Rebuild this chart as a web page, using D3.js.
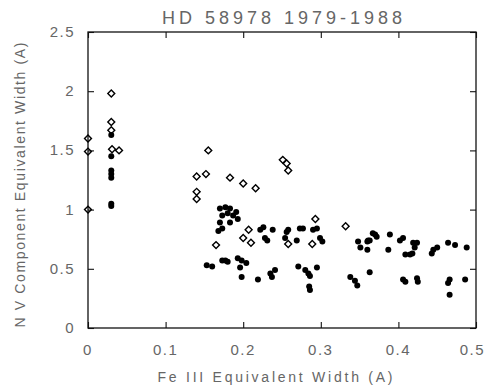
<!DOCTYPE html>
<html><head><meta charset="utf-8">
<script src="https://cdn.jsdelivr.net/npm/d3@7"></script>
<style>html,body{margin:0;padding:0;background:#fff;}svg{display:block;}</style>
</head><body>
<script>
const title = "HD 58978 1979-1988";
const xLabel = "Fe III Equivalent Width (A)";
const yLabel = "N V Component Equivalent Width (A)";
const xTicks = [0, 0.1, 0.2, 0.3, 0.4, 0.5];
const xTickLabels = ["0", "0.1", "0.2", "0.3", "0.4", "0.5"];
const yTicks = [0, 0.5, 1, 1.5, 2, 2.5];
const yTickLabels = ["0", "0.5", "1", "1.5", "2", "2.5"];

// open diamond markers [Fe III EW, V component EW]
const openX = [0, 0, 0, 0.03, 0.03, 0.03, 0.031, 0.040, 0.140, 0.152, 0.140, 0.140, 0.155, 0.183, 0.200, 0.216, 0.251, 0.256, 0.258, 0.165, 0.207, 0.200, 0.210, 0.258, 0.293, 0.289, 0.332];
const openY = [1.60, 1.49, 1.00, 1.98, 1.74, 1.67, 1.51, 1.50, 1.28, 1.30, 1.15, 1.09, 1.50, 1.27, 1.22, 1.18, 1.42, 1.39, 1.33, 0.70, 0.83, 0.76, 0.72, 0.71, 0.92, 0.71, 0.86];

// filled markers
const fillX = [0.03, 0.03, 0.03, 0.03, 0.03, 0.03, 0.03,
  0.170, 0.177, 0.183, 0.191, 0.180, 0.173, 0.187, 0.193, 0.170, 0.173, 0.168, 0.183,
  0.222, 0.226, 0.238, 0.228, 0.231, 0.256, 0.254, 0.269, 0.258, 0.273, 0.277, 0.290, 0.295, 0.299, 0.302,
  0.348, 0.351, 0.360, 0.361, 0.367, 0.372, 0.370, 0.363, 0.360, 0.389, 0.387, 0.406, 0.402, 0.419, 0.424, 0.418, 0.415, 0.409, 0.421, 0.445, 0.450, 0.443, 0.464, 0.473, 0.488,
  0.153, 0.160, 0.173, 0.177, 0.180, 0.198, 0.193, 0.204, 0.196, 0.198, 0.219, 0.235, 0.237, 0.241,
  0.271, 0.284, 0.280, 0.286, 0.295, 0.286, 0.285,
  0.338, 0.344, 0.347, 0.363, 0.406, 0.409, 0.424, 0.425, 0.464, 0.466, 0.486, 0.466];
const fillY = [1.63, 1.45, 1.33, 1.30, 1.27, 1.05, 1.03,
  1.01, 1.02, 1.01, 0.98, 0.97, 0.95, 0.95, 0.92, 0.89, 0.84, 0.82, 0.89,
  0.83, 0.85, 0.83, 0.76, 0.74, 0.81, 0.76, 0.74, 0.83, 0.84, 0.84, 0.83, 0.84, 0.76, 0.73,
  0.73, 0.68, 0.66, 0.74, 0.80, 0.77, 0.79, 0.74, 0.73, 0.79, 0.66, 0.76, 0.74, 0.72, 0.72, 0.63, 0.62, 0.62, 0.68, 0.66, 0.68, 0.63, 0.72, 0.70, 0.68,
  0.53, 0.52, 0.57, 0.57, 0.56, 0.57, 0.59, 0.55, 0.51, 0.43, 0.41, 0.46, 0.43, 0.49,
  0.52, 0.46, 0.49, 0.44, 0.51, 0.32, 0.35,
  0.43, 0.40, 0.36, 0.47, 0.41, 0.39, 0.42, 0.39, 0.38, 0.41, 0.41, 0.28];

const W = 486, H = 386;
const svg = d3.select("body").append("svg").attr("width", W).attr("height", H);
const x = d3.scaleLinear().domain([0, 0.5]).range([88, 476]);
const y = d3.scaleLinear().domain([0, 2.5]).range([328, 32]);
const textColor = "#666";
const font = "Liberation Sans, Arial, sans-serif";

// frame
svg.append("rect").attr("x", x(0)).attr("y", y(2.5))
  .attr("width", x(0.5) - x(0)).attr("height", y(0) - y(2.5))
  .attr("fill", "none").attr("stroke", "#111").attr("stroke-width", 1.3);

// inward ticks on all sides
const tl = 6;
const gb = svg.append("g").attr("transform", `translate(0,${y(0)})`)
  .call(d3.axisBottom(x).tickValues(xTicks).tickSize(-tl).tickFormat(""));
const gt = svg.append("g").attr("transform", `translate(0,${y(2.5)})`)
  .call(d3.axisTop(x).tickValues(xTicks).tickSize(-tl).tickFormat(""));
const gl = svg.append("g").attr("transform", `translate(${x(0)},0)`)
  .call(d3.axisLeft(y).tickValues(yTicks).tickSize(-tl).tickFormat(""));
const gr = svg.append("g").attr("transform", `translate(${x(0.5)},0)`)
  .call(d3.axisRight(y).tickValues(yTicks).tickSize(-tl).tickFormat(""));
[gb, gt, gl, gr].forEach(g => {
  g.select(".domain").remove();
  g.selectAll("line").attr("stroke", "#111").attr("stroke-width", 1.1);
});

// tick labels
svg.append("g").selectAll("text").data(xTicks).join("text")
  .attr("x", d => d === 0.5 ? x(d) + 9 : x(d)).attr("y", 355)
  .attr("text-anchor", d => d === 0.5 ? "end" : "middle")
  .attr("font-family", font).attr("font-size", 15)
  .attr("letter-spacing", 1.5).attr("fill", textColor)
  .text((d, i) => xTickLabels[i]);
svg.append("g").selectAll("text").data(yTicks).join("text")
  .attr("x", 75).attr("y", d => y(d) + 5)
  .attr("text-anchor", "end").attr("font-family", font).attr("font-size", 15)
  .attr("letter-spacing", 1.5).attr("fill", textColor)
  .text((d, i) => yTickLabels[i]);

// title and axis labels
svg.append("text").attr("x", 282).attr("y", 24).attr("text-anchor", "middle")
  .attr("font-family", font).attr("font-size", 18).attr("fill", textColor)
  .attr("textLength", 240).attr("lengthAdjust", "spacing").text(title);
svg.append("text").attr("x", 275).attr("y", 382).attr("text-anchor", "middle")
  .attr("font-family", font).attr("font-size", 14).attr("fill", textColor)
  .attr("textLength", 235).attr("lengthAdjust", "spacing").text(xLabel);
svg.append("text").attr("transform", "translate(25,185) rotate(-90)").attr("text-anchor", "middle")
  .attr("font-family", font).attr("font-size", 14).attr("fill", textColor)
  .attr("textLength", 285).attr("lengthAdjust", "spacing").text(yLabel);

// filled markers
svg.append("g").selectAll("circle").data(fillX.map((v, i) => [v, fillY[i]])).join("circle")
  .attr("cx", d => x(d[0])).attr("cy", d => y(d[1])).attr("r", 3).attr("fill", "#000");

// open diamonds
const diamond = d3.symbol().type(d3.symbolSquare).size(24);
svg.append("g").selectAll("path").data(openX.map((v, i) => [v, openY[i]])).join("path")
  .attr("d", diamond)
  .attr("transform", d => `translate(${x(d[0])},${y(d[1])}) rotate(45)`)
  .attr("fill", "none").attr("stroke", "#000").attr("stroke-width", 1.4);
</script>
</body></html>
